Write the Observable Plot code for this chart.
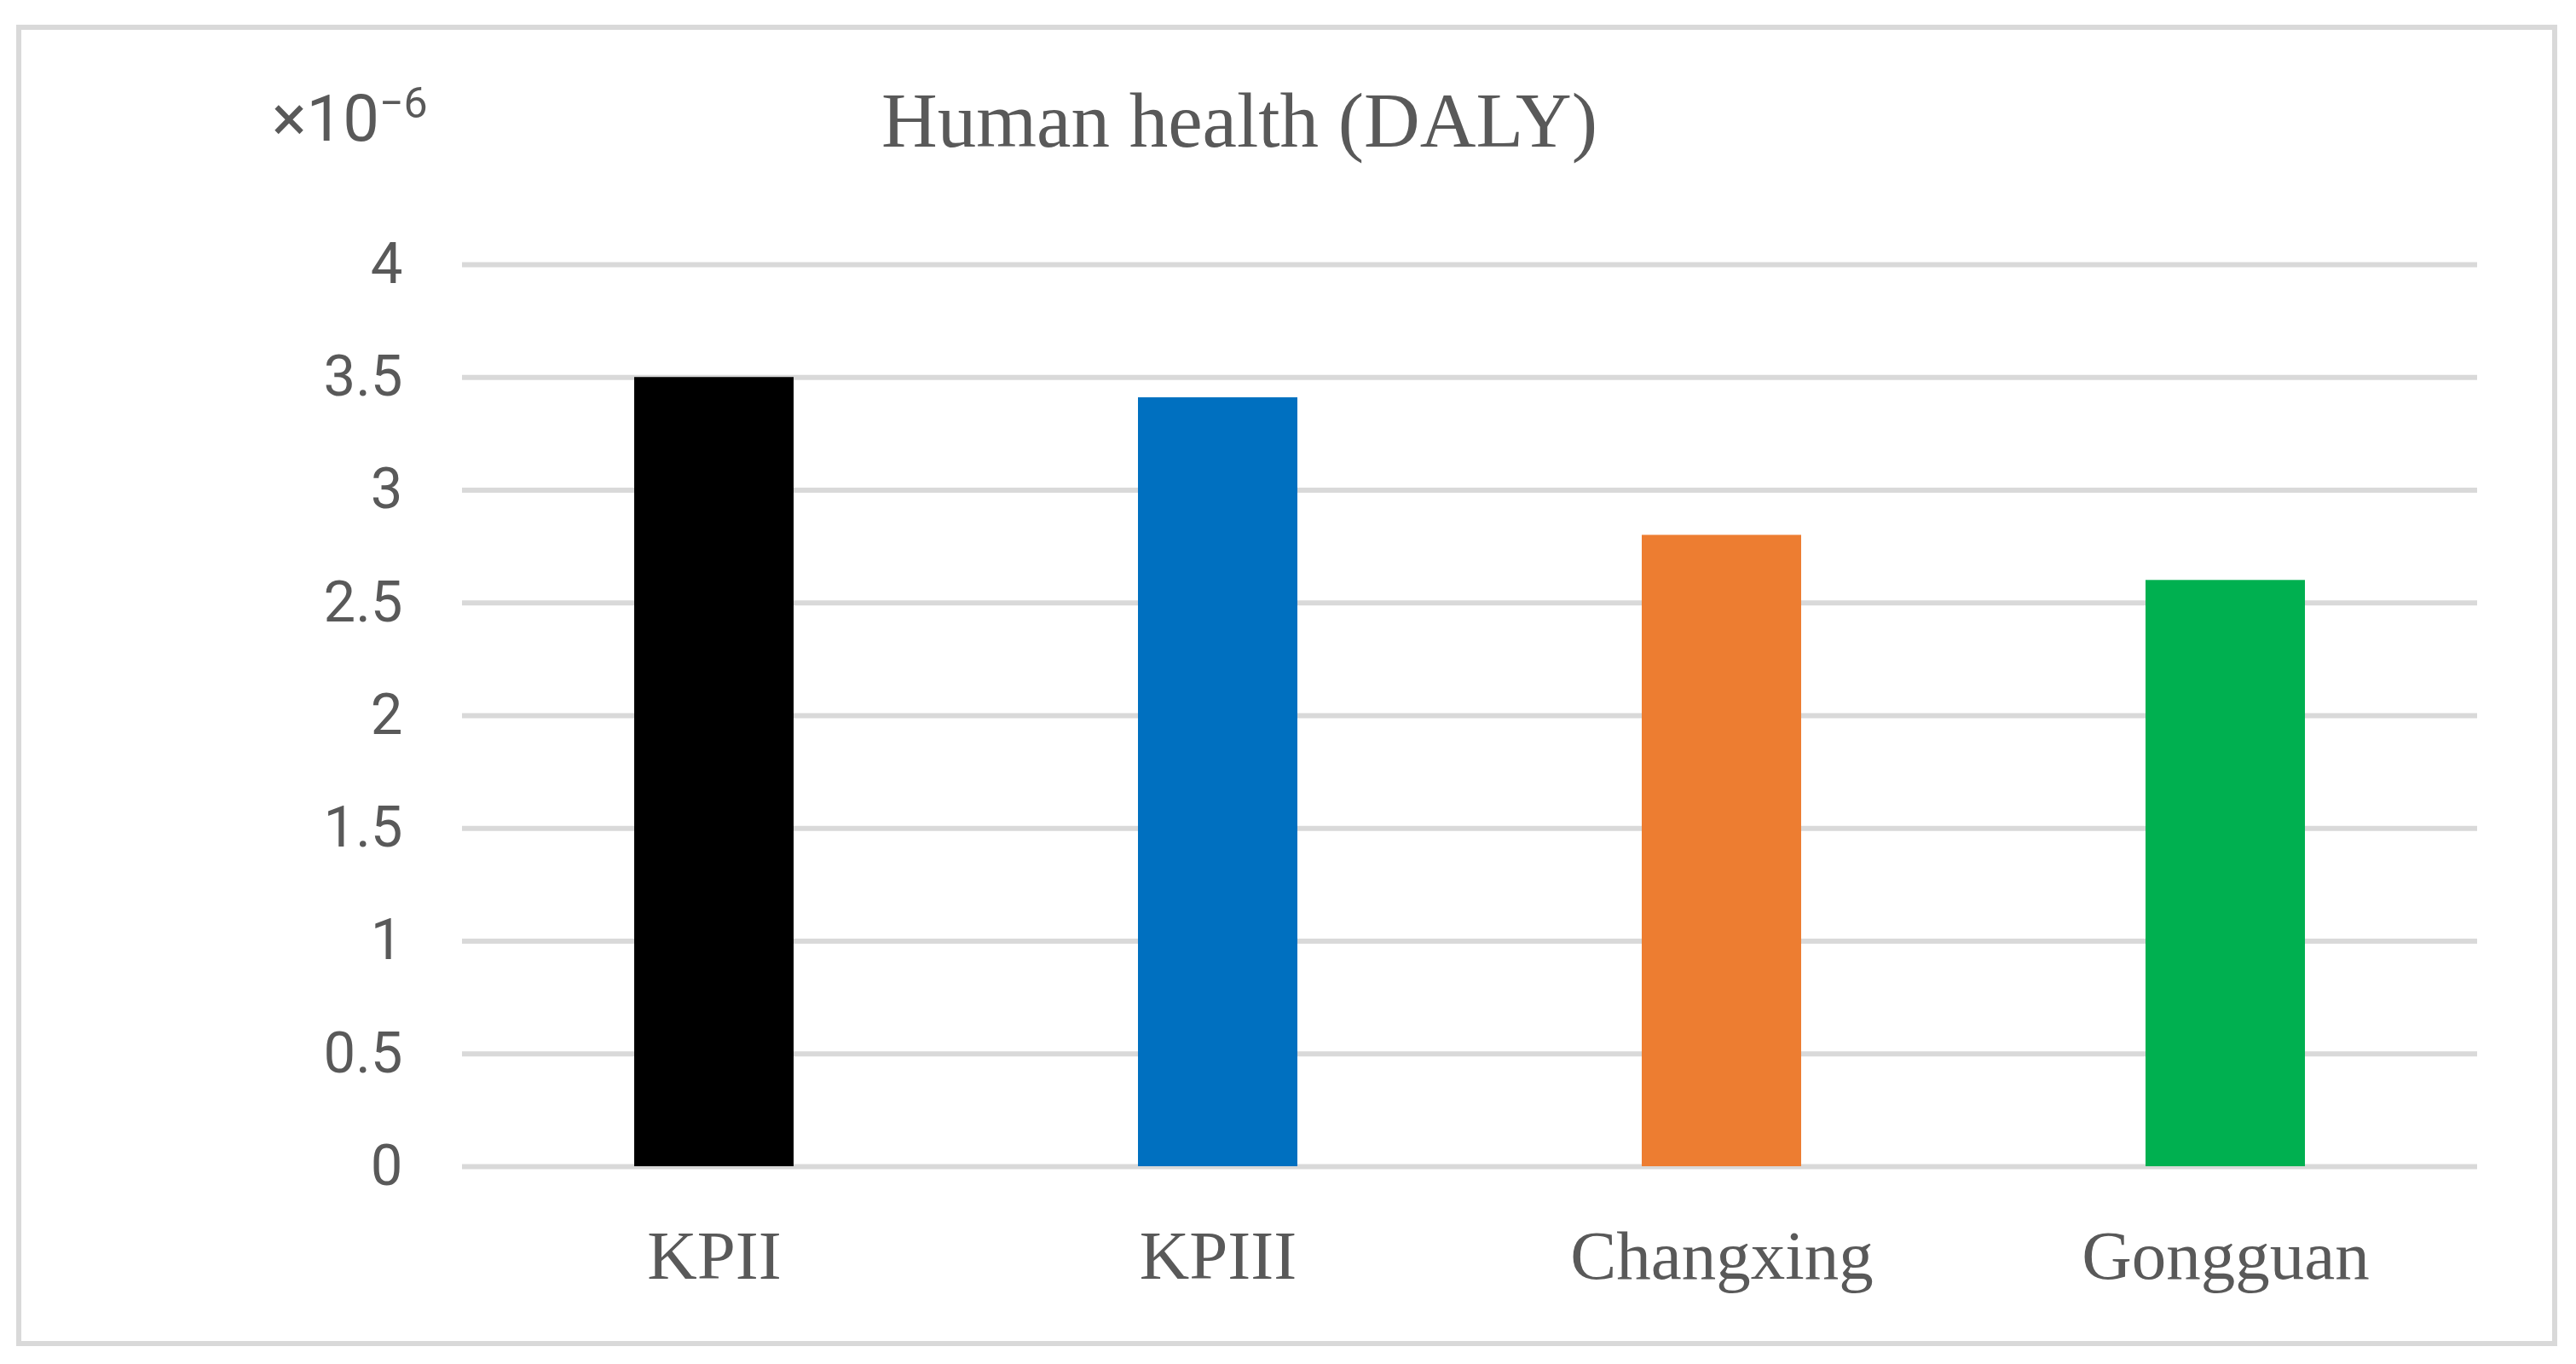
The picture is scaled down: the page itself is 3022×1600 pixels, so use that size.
<!DOCTYPE html>
<html>
<head>
<meta charset="utf-8">
<script src="https://cdn.jsdelivr.net/npm/d3@7"></script>
<script src="https://cdn.jsdelivr.net/npm/@observablehq/plot@0.6"></script>
<style>
  html, body { margin: 0; padding: 0; background: #ffffff; }
  #chart { width: 3022px; height: 1600px; }
</style>
</head>
<body>
<div id="chart"></div>
<script>
const categories = ["KPII", "KPIII", "Changxing", "Gongguan"];
const values = [3.5, 3.41, 2.8, 2.6];
const colors = ["#000000", "#0070c0", "#ed7d31", "#00b050"];
const yTicks = [0, 0.5, 1, 1.5, 2, 2.5, 3, 3.5, 4];
const yTickLabels = ["0", "0.5", "1", "1.5", "2", "2.5", "3", "3.5", "4"];
const title = "Human health (DALY)";
const unitBase = "×10";
const unitExp = "−6";

const data = categories.map((c, i) => ({ cat: c, value: values[i], color: colors[i] }));

const W = 3022, H = 1600;
const sans = "Roboto, 'Open Sans', sans-serif";
const serif = "'Liberation Serif', 'DejaVu Serif', serif";
const textColor = "#595959";

const plot = Plot.plot({
  width: W,
  height: H,
  marginLeft: 542,
  marginRight: 116,
  marginTop: 310,
  marginBottom: 232,
  style: { background: "#ffffff", overflow: "visible" },
  x: { domain: categories, padding: 0 },
  y: { domain: [0, 4] },
  marks: [
    Plot.ruleY(yTicks, { stroke: "#d9d9d9", strokeWidth: 6 }),
    Plot.barY(data, { x: "cat", y: "value", fill: "color", insetLeft: 202, insetRight: 202 }),
    Plot.axisY({
      ticks: yTicks,
      tickFormat: (d) => yTickLabels[yTicks.indexOf(d)],
      tickSize: 0,
      tickPadding: 70,
      label: null,
      fontFamily: sans,
      fontSize: 67,
      fill: textColor
    }),
    Plot.axisX({
      tickSize: 0,
      tickPadding: 74,
      label: null,
      fontFamily: serif,
      fontSize: 81,
      fill: textColor
    })
  ]
});

document.getElementById("chart").appendChild(plot);

const svg = d3.select(plot);

// outer border
svg.append("rect")
  .attr("x", 22).attr("y", 32)
  .attr("width", 2975).attr("height", 1544)
  .attr("fill", "none")
  .attr("stroke", "#d9d9d9")
  .attr("stroke-width", 6);

// title
svg.append("text")
  .attr("x", 1454).attr("y", 172)
  .attr("text-anchor", "middle")
  .attr("font-family", serif)
  .attr("font-size", 91)
  .attr("fill", textColor)
  .text(title);

// unit multiplier
const u = svg.append("text")
  .attr("x", 319).attr("y", 165)
  .attr("text-anchor", "start")
  .attr("font-family", sans)
  .attr("font-size", 76)
  .attr("fill", textColor);
u.append("tspan").text(unitBase);
u.append("tspan").attr("dy", -27).attr("font-size", 50).text(unitExp);
</script>
</body>
</html>
